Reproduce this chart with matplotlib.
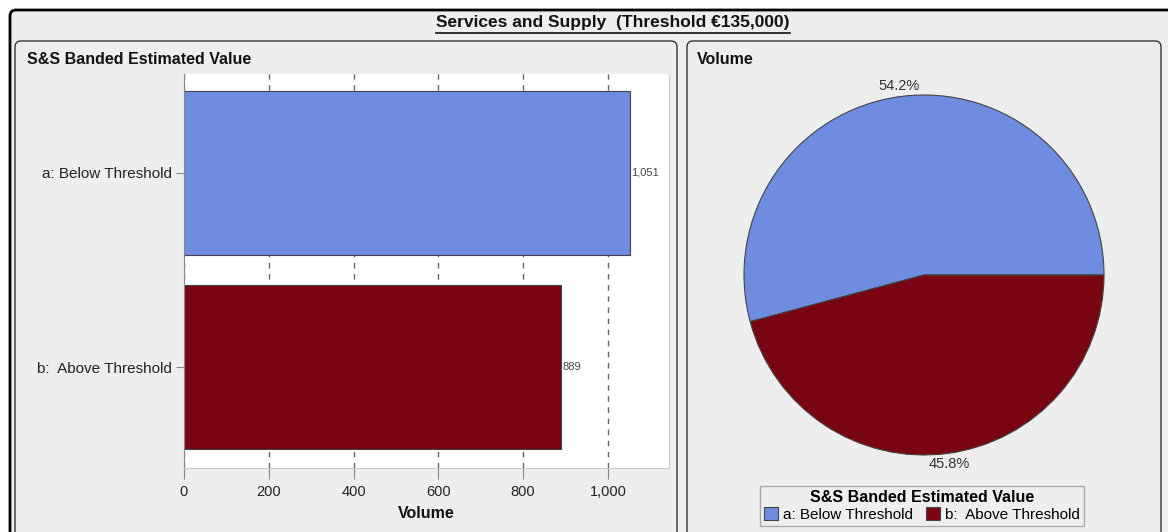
import numpy as np
import matplotlib
matplotlib.use("Agg")
import matplotlib.pyplot as plt
import matplotlib.patches as mpatches
from matplotlib.transforms import IdentityTransform
from matplotlib.lines import Line2D

# data
categories = ["a: Below Threshold", "b:  Above Threshold"]
volumes = [1051, 889]
bar_colors = ["#6f8de0", "#780511"]
xticks = [0, 200, 400, 600, 800, 1000]

plt.rcParams['font.family'] = ['Liberation Sans', 'DejaVu Sans']

W, H = 1168, 532
fig = plt.figure(figsize=(W / 100, H / 100), dpi=100, facecolor='white')

def box(x, y_top, w, h, fc, ec, lw, r):
    # pixel box, top-left origin
    p = mpatches.FancyBboxPatch((x, H - y_top - h), w, h,
                                boxstyle="round,pad=0,rounding_size=%d" % r,
                                fc=fc, ec=ec, lw=lw, transform=IdentityTransform(),
                                zorder=-5)
    fig.add_artist(p)

# outer frame + panels
box(10, 10, 1175, 540, '#eeeeee', 'black', 2.0, 6)
box(15, 41, 662, 510, '#eeeeee', '#333333', 1.0, 6)
box(687, 41, 474, 510, '#eeeeee', '#333333', 1.0, 6)

t = fig.text(613 / W, 1 - 23 / H, "Services and Supply  (Threshold €135,000)",
             ha='center', va='center', fontsize=12.5, fontweight='bold', color='#111111')
fig.text(27 / W, 1 - 60 / H, "S&S Banded Estimated Value", ha='left', va='center',
         fontsize=11.5, fontweight='bold', color='#111111')
fig.text(697 / W, 1 - 60 / H, "Volume", ha='left', va='center',
         fontsize=11.5, fontweight='bold', color='#111111')

# bar chart
ax = fig.add_axes([184 / W, 1 - 468 / H, 485 / W, 394 / H])
ax.set_facecolor('white')
y = np.arange(len(categories))
bars = ax.barh(y, volumes, height=0.845, color=bar_colors, edgecolor='#444444',
               linewidth=0.8, zorder=2)
ax.set_ylim(1.52, -0.51)
ax.set_xlim(0, 1144)
ax.set_yticks(y)
ax.set_yticklabels(categories, fontsize=11, color='#222222')
ax.set_xticks(xticks)
ax.set_xticklabels(["{:,}".format(v) for v in xticks], fontsize=10.5, color='#222222')
ax.grid(axis='x', linestyle=(0, (4, 4)), color='#666666', linewidth=1.0, zorder=0)
ax.set_axisbelow(True)
ax.spines['top'].set_visible(False)
ax.spines['right'].set_color('#cccccc')
ax.spines['left'].set_color('#888888')
ax.spines['bottom'].set_color('#cccccc')
ax.tick_params(axis='x', length=8, color='#888888', pad=4)
ax.tick_params(axis='y', length=6, color='#888888', pad=3)
ax.set_xlabel("Volume", fontsize=11.5, fontweight='bold', color='#111111', labelpad=5)
for b, v in zip(bars, volumes):
    ax.text(b.get_width() + 3, b.get_y() + b.get_height() / 2, "{:,}".format(v),
            ha='left', va='center', fontsize=8, color='#444444')

# pie
pax = fig.add_axes([724 / W, 1 - 475 / H, 400 / W, 400 / H])
wedges, texts, autotexts = pax.pie(volumes, colors=bar_colors, startangle=0,
                                   counterclock=True, radius=0.9,
                                   autopct=lambda p: "%.1f%%" % p, pctdistance=1.06,
                                   wedgeprops=dict(edgecolor='#444444', linewidth=0.8))
for at in autotexts:
    at.set_fontsize(10.5)
    at.set_color('#333333')
pax.set_xlim(-1, 1)
pax.set_ylim(-1, 1)
pax.set_aspect('equal')

leg = fig.legend(wedges, categories,
                 title="S&S Banded Estimated Value", ncol=2,
                 loc='center', bbox_to_anchor=(922 / W, 1 - 506 / H),
                 fontsize=11, title_fontproperties={'weight': 'bold', 'size': 11.5},
                 frameon=True, fancybox=False, edgecolor='#999999', facecolor='#eeeeee',
                 handlelength=0.9, handleheight=0.9, handletextpad=0.3,
                 columnspacing=0.9, borderpad=0.3, labelspacing=0.1)
leg.get_frame().set_linewidth(1.0)

# underline title
fig.canvas.draw()
bb = t.get_window_extent()
fig.add_artist(Line2D([bb.x0, bb.x1], [bb.y0 - 2, bb.y0 - 2], color='#111111',
                      lw=1.2, transform=IdentityTransform()))

fig.savefig("out.png", dpi=100, facecolor='white')
